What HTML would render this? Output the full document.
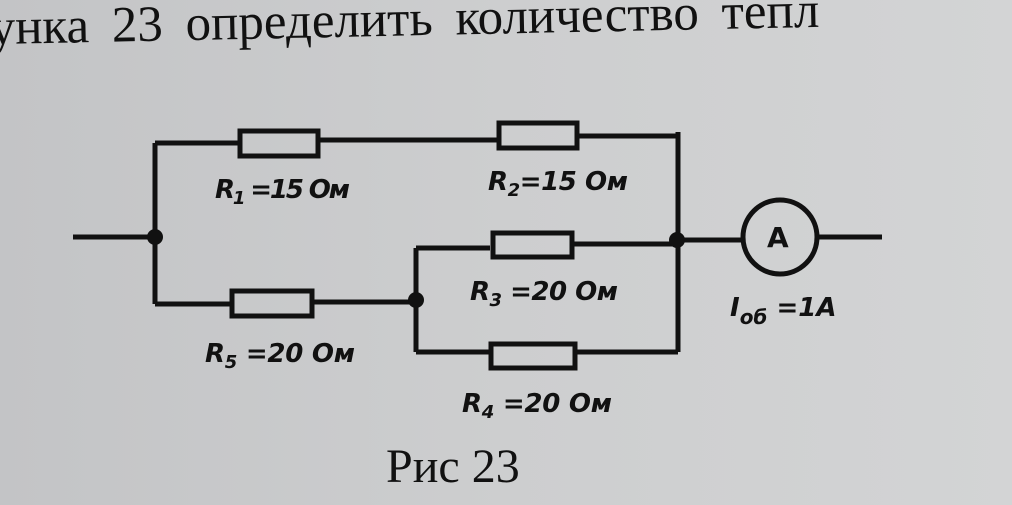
<!DOCTYPE html>
<html><head><meta charset="utf-8"><style>
body{margin:0;width:1012px;height:505px;overflow:hidden;background:linear-gradient(90deg,#c3c4c6 0%,#cdcecf 50%,#d3d4d5 100%);}
svg{position:absolute;left:0;top:0}
</style></head><body>
<svg width="1012" height="505" viewBox="0 0 1012 505">
<g font-family="Liberation Serif, serif" fill="#111">
<text x="-10" y="44" font-size="51" word-spacing="10" transform="rotate(-1.2 0 44)">унка 23 определить количество тепл</text>
<text x="386" y="482" font-size="48">Рис 23</text>
</g>
<g stroke="#111" stroke-width="5" fill="none">
<path d="M73 237H155M155 143V304M155 143H240M318 140H497M577 136H678M678 132V352M678 240H742M818 237H882"/>
<path d="M155 304H232M312 302H416M416 248V352M416 248H490M572 244H678M416 352H490M575 352H678"/>
<rect x="240" y="131" width="78" height="25"/>
<rect x="499" y="123" width="78" height="25"/>
<rect x="493" y="233" width="79" height="24"/>
<rect x="232" y="291" width="80" height="25"/>
<rect x="491" y="344" width="84" height="24"/>
<circle cx="780" cy="237" r="37"/>
</g>
<g fill="#111"><circle cx="155" cy="237" r="8"/><circle cx="416" cy="300" r="8"/><circle cx="677" cy="240" r="8"/></g>
<g font-family="DejaVu Sans, sans-serif" font-weight="bold" fill="#111" font-style="italic">
<text x="215" y="198" font-size="26" textLength="135">R<tspan font-size="18" dy="6">1</tspan><tspan dy="-6"> =15 Ом</tspan></text>
<text x="488" y="190" font-size="26" textLength="140">R<tspan font-size="18" dy="6">2</tspan><tspan dy="-6">=15 Ом</tspan></text>
<text x="470" y="300" font-size="26" textLength="148">R<tspan font-size="18" dy="6">3</tspan><tspan dy="-6"> =20 Ом</tspan></text>
<text x="205" y="362" font-size="26" textLength="150">R<tspan font-size="18" dy="6">5</tspan><tspan dy="-6"> =20 Ом</tspan></text>
<text x="462" y="412" font-size="26" textLength="150">R<tspan font-size="18" dy="6">4</tspan><tspan dy="-6"> =20 Ом</tspan></text>
<text x="730" y="316" font-size="26">I<tspan font-size="20" dy="8">об</tspan><tspan dy="-8"> =1A</tspan></text>
<text x="767" y="247" font-size="28" font-style="normal">A</text>
</g>
</svg>
</body></html>
